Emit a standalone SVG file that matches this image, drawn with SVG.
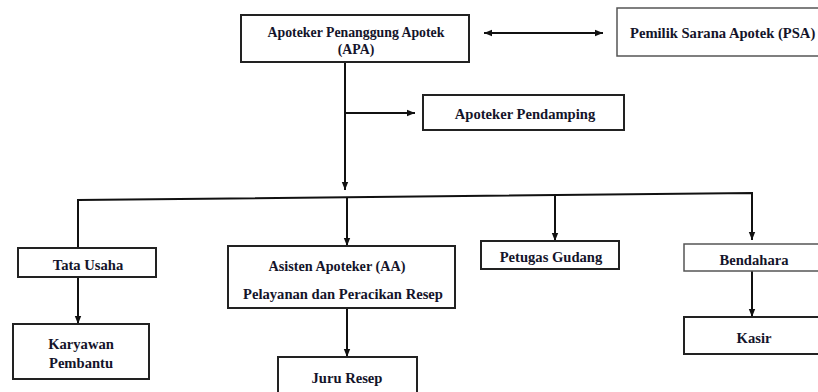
<svg xmlns="http://www.w3.org/2000/svg" width="818" height="392" viewBox="0 0 818 392">
<style>
.box{fill:#fff;stroke:#222;stroke-width:2}
.thin{fill:#fff;stroke:#555;stroke-width:1.5}
.t{font-family:"Liberation Serif","Times New Roman",serif;font-weight:bold;font-size:14.6px;fill:#14142a;text-anchor:middle}
.c{fill:none;stroke:#111;stroke-width:2}
</style>
<defs>
<marker id="a" viewBox="0 0 10 10" refX="10" refY="5" markerWidth="8" markerHeight="8" orient="auto-start-reverse" markerUnits="userSpaceOnUse">
<path d="M0,1 L10,5 L0,9 z" fill="#111"/>
</marker>
</defs>
<g id="connectors">
<line class="c" x1="484" y1="33" x2="603" y2="33" marker-start="url(#a)" marker-end="url(#a)"/>
<line class="c" x1="345" y1="62" x2="345" y2="190" marker-end="url(#a)"/>
<line class="c" x1="345" y1="113" x2="415" y2="113" marker-end="url(#a)"/>
<polyline class="c" points="78,247 78,200 752,193 752,240" marker-end="url(#a)"/>
<line class="c" x1="347" y1="198" x2="347" y2="246" marker-end="url(#a)"/>
<line class="c" x1="555" y1="194" x2="555" y2="241" marker-end="url(#a)"/>
<line class="c" x1="78" y1="277" x2="78" y2="324" marker-end="url(#a)"/>
<line class="c" x1="347" y1="308" x2="347" y2="357" marker-end="url(#a)"/>
<line class="c" x1="752" y1="271" x2="752" y2="317" marker-end="url(#a)"/>
</g>
<g id="apa">
<rect class="box" x="241" y="15" width="228" height="47"/>
<text class="t" x="356" y="37" style="font-size:13.8px">Apoteker Penanggung Apotek</text>
<text class="t" x="356" y="54" style="font-size:13.8px">(APA)</text>
</g>
<g id="psa">
<rect class="thin" x="617" y="8" width="205" height="48"/>
<text class="t" x="630" y="38" style="text-anchor:start">Pemilik Sarana Apotek (PSA)</text>
</g>
<g id="pendamping">
<rect class="box" x="423" y="95" width="201" height="35"/>
<text class="t" x="525" y="119">Apoteker Pendamping</text>
</g>
<g id="tata-usaha">
<rect class="box" x="18" y="248" width="138" height="29"/>
<text class="t" x="88" y="270">Tata Usaha</text>
</g>
<g id="karyawan">
<rect class="box" x="13" y="324" width="136" height="55"/>
<text class="t" x="81" y="349">Karyawan</text>
<text class="t" x="81" y="368">Pembantu</text>
</g>
<g id="asisten">
<rect class="box" x="228" y="246" width="227" height="62"/>
<text class="t" x="337" y="271" style="font-size:14.2px">Asisten Apoteker (AA)</text>
<text class="t" x="343" y="299">Pelayanan dan Peracikan Resep</text>
</g>
<g id="juru-resep">
<rect class="box" x="278" y="357" width="139" height="40"/>
<text class="t" x="347" y="383">Juru Resep</text>
</g>
<g id="gudang">
<rect class="box" x="481" y="241" width="138" height="28"/>
<text class="t" x="551" y="262">Petugas Gudang</text>
</g>
<g id="bendahara">
<rect class="thin" x="684" y="244" width="138" height="27"/>
<text class="t" x="754" y="265">Bendahara</text>
</g>
<g id="kasir">
<rect class="box" x="684" y="317" width="138" height="37"/>
<text class="t" x="754" y="343">Kasir</text>
</g>
</svg>
